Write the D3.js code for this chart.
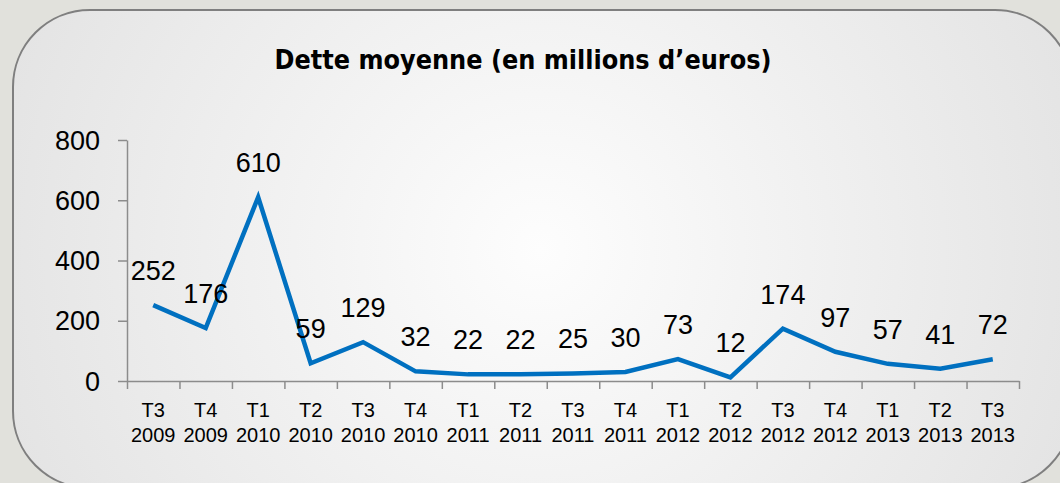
<!DOCTYPE html>
<html>
<head>
<meta charset="utf-8">
<script src="https://cdn.jsdelivr.net/npm/d3@7"></script>
<style>
  html, body { margin: 0; padding: 0; background: #e1e1dc; }
  svg { display: block; }
</style>
</head>
<body>
<svg id="chart" width="1060" height="483"></svg>
<script>
// data
var quarters = ["T3", "T4", "T1", "T2", "T3", "T4", "T1", "T2", "T3", "T4", "T1", "T2", "T3", "T4", "T1", "T2", "T3"];
var years = ["2009", "2009", "2010", "2010", "2010", "2010", "2011", "2011", "2011", "2011", "2012", "2012", "2012", "2012", "2013", "2013", "2013"];
var dette = [252, 176, 610, 59, 129, 32, 22, 22, 25, 30, 73, 12, 174, 97, 57, 41, 72];
var yTicks = [0, 200, 400, 600, 800];
var title = "Dette moyenne (en millions d\u2019euros)";

var svg = d3.select("#chart");
var cats = quarters.map(function(q, i) { return q + " " + years[i]; });

// panel with soft radial fill
var defs = svg.append("defs");
var grad = defs.append("radialGradient")
    .attr("id", "panelFill")
    .attr("gradientUnits", "userSpaceOnUse")
    .attr("cx", 540).attr("cy", 250).attr("r", 560);
grad.append("stop").attr("offset", "0%").attr("stop-color", "#fdfdfd");
grad.append("stop").attr("offset", "100%").attr("stop-color", "#e4e4e4");

svg.append("rect")
    .attr("x", 13).attr("y", 10)
    .attr("width", 1059).attr("height", 478)
    .attr("rx", 77).attr("ry", 77)
    .attr("fill", "url(#panelFill)")
    .attr("stroke", "#7f7f7f")
    .attr("stroke-width", 2);

var plotLeft = 127, plotRight = 1019, plotTop = 140, plotBottom = 381;

var x = d3.scaleBand().domain(cats).range([plotLeft, plotRight]);
var xb = d3.scaleLinear().domain([0, cats.length]).range([plotLeft, plotRight]);
var y = d3.scaleLinear().domain([0, 800]).range([plotBottom, plotTop]);

svg.append("text")
    .attr("x", 523).attr("y", 69)
    .attr("text-anchor", "middle")
    .attr("font-family", "DejaVu Sans, Verdana, sans-serif")
    .attr("font-weight", "bold")
    .attr("font-size", 26)
    .attr("textLength", 497)
    .attr("lengthAdjust", "spacingAndGlyphs")
    .attr("fill", "#000")
    .text(title);

// y axis
var yAxis = svg.append("g")
    .attr("transform", "translate(" + plotLeft + ",0)")
    .call(d3.axisLeft(y).tickValues(yTicks).tickSize(9).tickPadding(18).tickSizeOuter(0));
yAxis.selectAll("text")
    .attr("font-family", "Liberation Sans, Arial, sans-serif")
    .attr("font-size", 27)
    .attr("fill", "#000")
    .attr("dy", "0.34em");

// x axis: ticks between categories
var xAxis = svg.append("g")
    .attr("transform", "translate(0," + plotBottom + ")")
    .call(d3.axisBottom(xb).tickValues(d3.range(cats.length + 1)).tickSize(8).tickFormat("").tickSizeOuter(0));

var xLabels = svg.append("g")
    .attr("font-family", "Liberation Sans, Arial, sans-serif")
    .attr("font-size", 20)
    .attr("fill", "#000")
    .attr("text-anchor", "middle");
var lab = xLabels.selectAll("text")
    .data(cats)
    .enter().append("text")
    .attr("x", function(d) { return x(d) + x.bandwidth() / 2; })
    .attr("y", 417);
lab.append("tspan").text(function(d, i) { return quarters[i]; });
lab.append("tspan")
    .attr("x", function(d) { return x(d) + x.bandwidth() / 2; })
    .attr("y", 442)
    .text(function(d, i) { return years[i]; });

svg.selectAll(".domain, .tick line")
    .attr("stroke", "#8c8c8c")
    .attr("stroke-width", 1.5);

// line
var line = d3.line()
    .x(function(d, i) { return x(cats[i]) + x.bandwidth() / 2; })
    .y(function(d) { return y(d); });

svg.append("path")
    .datum(dette)
    .attr("d", line)
    .attr("fill", "none")
    .attr("stroke", "#0070c0")
    .attr("stroke-width", 4.5)
    .attr("stroke-linejoin", "miter");

// data labels
svg.append("g")
    .attr("font-family", "Liberation Sans, Arial, sans-serif")
    .attr("font-size", 27)
    .attr("fill", "#000")
    .attr("text-anchor", "middle")
  .selectAll("text")
    .data(dette)
    .enter().append("text")
    .attr("x", function(d, i) { return x(cats[i]) + x.bandwidth() / 2; })
    .attr("y", function(d) { return y(d) - 25; })
    .text(function(d) { return d; });
</script>
</body>
</html>
